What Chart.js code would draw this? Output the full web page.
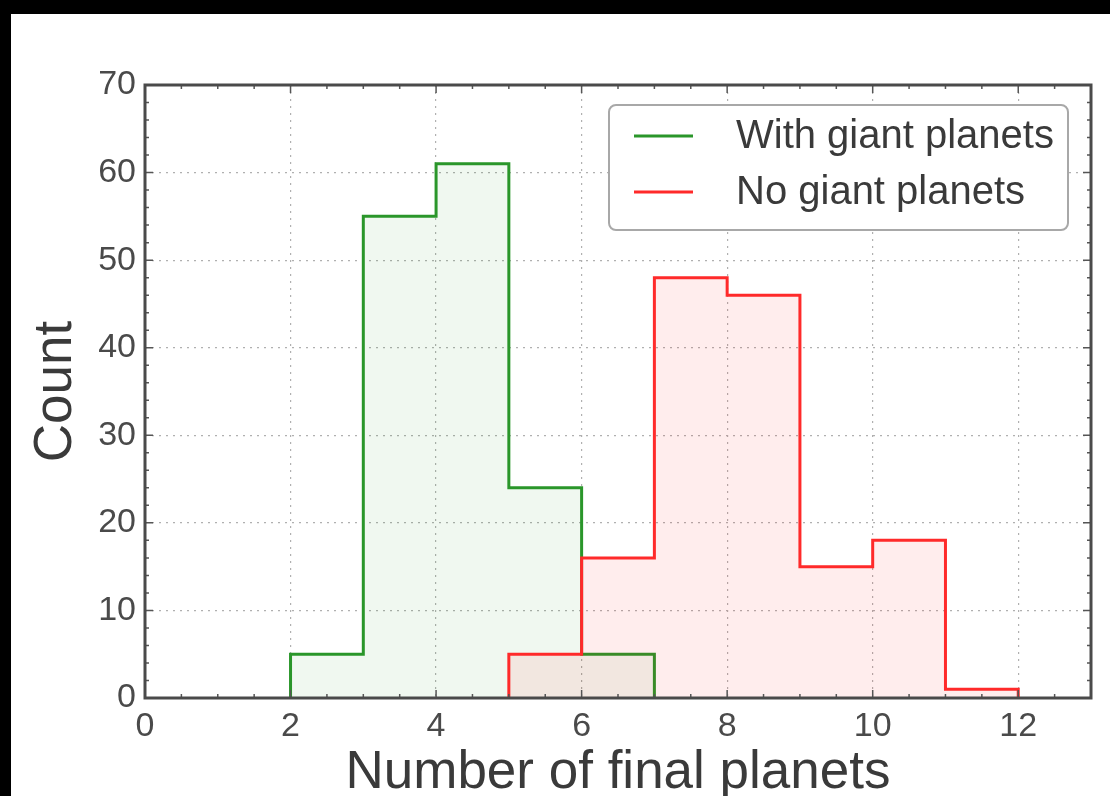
<!DOCTYPE html>
<html lang="en">
<head>
<meta charset="UTF-8">
<title>Number of final planets</title>
<script src="https://cdn.jsdelivr.net/npm/chart.js"></script>
<style>
    html, body { margin: 0; padding: 0; width: 1110px; height: 796px; overflow: hidden; background: #000; }
    .frame { position: absolute; left: 11px; top: 14px; width: 1099px; height: 800px; background: #fff; }
    canvas { display: block; }
</style>
</head>
<body>
<div class="frame">
    <canvas id="histChart" width="1099" height="800"></canvas>
</div>
<script>
// histogram data (bin width 1)
const withEdges = [2, 3, 4, 5, 6, 7];
const withCounts = [5, 55, 61, 24, 5];
const noEdges = [5, 6, 7, 8, 9, 10, 11, 12];
const noCounts = [5, 16, 48, 46, 15, 18, 1];
const seriesLabels = ['With giant planets', 'No giant planets'];

const xMin = 0, xMax = 13, xStep = 2, xMinor = 0.5;
const yMin = 0, yMax = 70, yStep = 10, yMinor = 2;

const textColor = '#3a3a3a';
const tickColor = '#4a4a4a';
const font = 'Liberation Sans, Arial, Helvetica, sans-serif';

// outline of a step histogram: corners of every bin
function stepOutline(edges, counts) {
    const pts = [{ x: edges[0], y: 0 }];
    counts.forEach((c, i) => {
        pts.push({ x: edges[i], y: c });
        pts.push({ x: edges[i + 1], y: c });
    });
    pts.push({ x: edges[edges.length - 1], y: 0 });
    return pts;
}

// frame, inward ticks on all four sides and the boxed legend
const axesDecor = {
    id: 'axesDecor',
    afterDatasetsDraw(chart) {
        const { ctx, chartArea: a, scales: { x, y } } = chart;
        ctx.save();
        ctx.strokeStyle = '#555';
        ctx.lineWidth = 1.5;
        ctx.beginPath();
        for (let v = xMin; v <= xMax + 1e-9; v += xMinor) {
            const px = x.getPixelForValue(v);
            const len = (Math.abs(v % xStep) < 1e-9) ? 8 : 4;
            ctx.moveTo(px, a.bottom); ctx.lineTo(px, a.bottom - len);
            ctx.moveTo(px, a.top); ctx.lineTo(px, a.top + len);
        }
        for (let v = yMin; v <= yMax + 1e-9; v += yMinor) {
            const py = y.getPixelForValue(v);
            const len = (Math.abs(v % yStep) < 1e-9) ? 8 : 4;
            ctx.moveTo(a.left, py); ctx.lineTo(a.left + len, py);
            ctx.moveTo(a.right, py); ctx.lineTo(a.right - len, py);
        }
        ctx.stroke();
        ctx.strokeStyle = '#4a4a4a';
        ctx.lineWidth = 3;
        ctx.strokeRect(a.left, a.top, a.right - a.left, a.bottom - a.top);
        ctx.restore();
    },
    afterDraw(chart) {
        const { ctx } = chart;
        const box = { left: 598, top: 91, width: 459, height: 125 };
        ctx.save();
        ctx.beginPath();
        ctx.roundRect(box.left, box.top, box.width, box.height, 7);
        ctx.fillStyle = '#fff';
        ctx.fill();
        ctx.strokeStyle = '#a8a8a8';
        ctx.lineWidth = 2;
        ctx.stroke();
        ctx.font = '40px ' + font;
        ctx.textBaseline = 'middle';
        ctx.fillStyle = textColor;
        chart.data.datasets.forEach((ds, i) => {
            const ly = 122 + i * 56;
            ctx.strokeStyle = ds.borderColor;
            ctx.lineWidth = 3;
            ctx.beginPath();
            ctx.moveTo(623, ly);
            ctx.lineTo(682, ly);
            ctx.stroke();
            ctx.fillText(ds.label, 725, ly + 1);
        });
        ctx.restore();
    }
};

new Chart(document.getElementById('histChart').getContext('2d'), {
    type: 'line',
    data: {
        datasets: [
            {
                label: seriesLabels[0],
                data: stepOutline(withEdges, withCounts),
                borderColor: '#2a962a',
                backgroundColor: 'rgba(0,128,0,0.06)',
                borderWidth: 3,
                fill: 'origin',
                pointRadius: 0,
                order: 1
            },
            {
                label: seriesLabels[1],
                data: stepOutline(noEdges, noCounts),
                borderColor: '#ff2a2a',
                backgroundColor: 'rgba(255,0,0,0.07)',
                borderWidth: 3,
                fill: 'origin',
                pointRadius: 0,
                order: 0
            }
        ]
    },
    options: {
        responsive: false,
        animation: false,
        layout: { padding: { left: 0, top: 71, right: 19, bottom: 0 } },
        plugins: { legend: { display: false }, tooltip: { enabled: false } },
        scales: {
            x: {
                type: 'linear',
                min: xMin,
                max: xMax,
                afterFit(scale) { scale.height = 116; },
                ticks: {
                    stepSize: xStep,
                    includeBounds: false,
                    padding: 8,
                    color: tickColor,
                    font: { family: font, size: 34 }
                },
                grid: { color: '#b0b0b0', lineWidth: 1.2, drawTicks: false },
                border: { display: false, dash: [2, 5] },
                title: {
                    display: true,
                    text: 'Number of final planets',
                    color: textColor,
                    font: { family: font, size: 53, lineHeight: 1 },
                    padding: { top: 0, bottom: 14 }
                }
            },
            y: {
                min: yMin,
                max: yMax,
                afterFit(scale) { scale.width = 134; },
                ticks: {
                    stepSize: yStep,
                    padding: 9,
                    color: tickColor,
                    font: { family: font, size: 34 }
                },
                grid: { color: '#b0b0b0', lineWidth: 1.2, drawTicks: false },
                border: { display: false, dash: [2, 5] },
                title: {
                    display: true,
                    text: 'Count',
                    color: textColor,
                    font: { family: font, size: 53, lineHeight: 1 },
                    padding: { top: 19, bottom: 0 }
                }
            }
        }
    },
    plugins: [axesDecor]
});
</script>
</body>
</html>
